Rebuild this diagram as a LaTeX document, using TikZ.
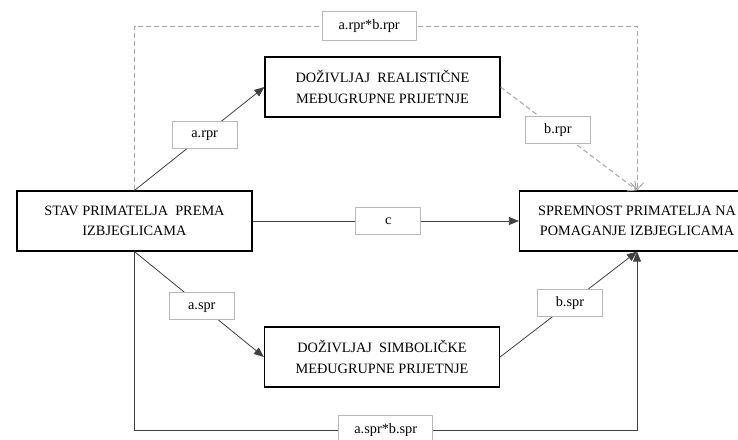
\documentclass[tikz,border=0pt]{standalone}
\usepackage{fontspec}
\setmainfont{Liberation Serif}
\usetikzlibrary{arrows.meta}
\begin{document}
\begin{tikzpicture}[x=1pt,y=-1pt,
  box/.style={draw=black, solid, line width=1.2pt, minimum width=235pt, minimum height=60pt, align=center, font=\fontsize{14.3}{20.5}\selectfont, inner sep=0pt, text=black},
  rbox/.style={box, font=\fontsize{14.3}{20.5}\selectfont, xshift=-2pt},
  lab/.style={draw=black!28, solid, line width=0.9pt, fill=white, minimum width=65pt, minimum height=27pt, font=\fontsize{14.3}{16}\selectfont, inner sep=0pt, text height=9.5pt, text depth=3pt, text=black},
  widelab/.style={lab, minimum width=94pt, minimum height=29pt},
  conn/.style={draw=black!75, line width=0.8pt},
  sarrow/.style={conn, -{Triangle[length=10pt,width=8pt]}},
  dconn/.style={draw=black!35, line width=1pt, dash pattern=on 5pt off 3pt},
  darrow/.style={dconn, -{Straight Barb[length=7pt,width=13pt]}}
]
\useasboundingbox (0,0) rectangle (738,439);
\fill[white] (0,0) rectangle (738,439);
\node[box] (stav) at (134.5,221) {STAV PRIMATELJA\ \ PREMA\\IZBJEGLICAMA};
\node[box] (spr) at (637,221) {SPREMNOST PRIMATELJA NA\\POMAGANJE IZBJEGLICAMA};
\node[box] (real) at (382.5,87) {DOŽIVLJAJ\ \ REALISTIČNE\\MEĐUGRUPNE PRIJETNJE};
\node[box] (simb) at (382,357) {DOŽIVLJAJ\ \ SIMBOLIČKE\\MEĐUGRUPNE PRIJETNJE};
\coordinate (tl) at (134.5,26);
\coordinate (tr) at (637,26);
\coordinate (bl) at (134.5,430);
\coordinate (br) at (637,430);
% dashed indirect paths
\draw[darrow] (stav.north) -- (tl) -- node[widelab, pos=0.467] (arbr) {a.rpr*b.rpr} (tr) -- (spr.north);
\draw[darrow] (real.east) -- node[lab, pos=0.42] (brpr) {b.rpr} (spr.north);
% solid paths
\draw[sarrow] (stav.north) -- node[lab, pos=0.54] (arpr) {a.rpr} (real.west);
\draw[sarrow] (stav.east) -- node[lab, pos=0.51] (c) {c} (spr.west);
\draw[sarrow] (stav.south) -- node[lab, pos=0.52] (aspr) {a.spr} (simb.west);
\draw[sarrow] (simb.east) -- node[lab, pos=0.51] (bspr) {b.spr} (spr.south);
\draw[sarrow] (stav.south) -- (bl) -- node[widelab, pos=0.5] (asbs) {a.spr*b.spr} (br) -- (spr.south);
\end{tikzpicture}
\end{document}
